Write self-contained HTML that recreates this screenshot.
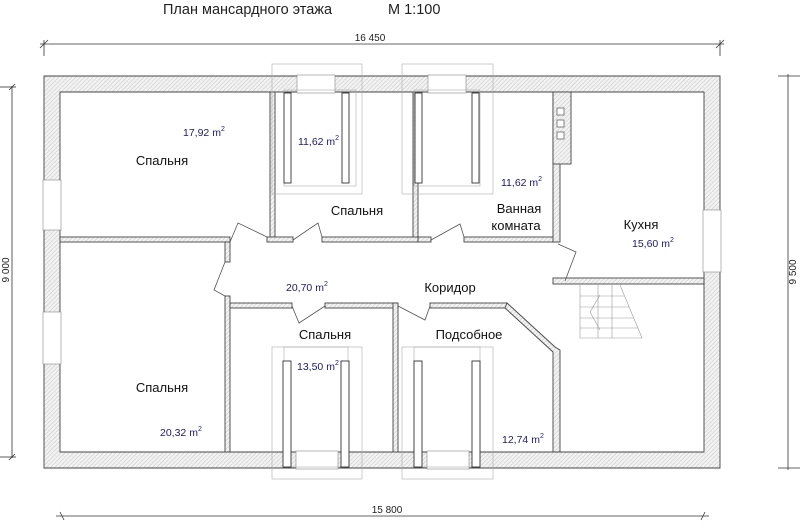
<!DOCTYPE html>
<html><head><meta charset="utf-8"><style>
html,body{margin:0;padding:0;background:#fff;}
svg{display:block;font-family:"Liberation Sans",sans-serif;}
</style></head><body>
<svg width="800" height="529" viewBox="0 0 800 529" xmlns="http://www.w3.org/2000/svg">
<defs>
<pattern id="h" width="3" height="3" patternUnits="userSpaceOnUse" patternTransform="rotate(45)">
<rect width="3" height="3" fill="#f2f2f2"/><line x1="0" y1="0" x2="0" y2="3" stroke="#bbb" stroke-width="0.8"/>
</pattern>
</defs>
<rect width="800" height="529" fill="#fff"/>
<text x="163" y="14" font-size="14.5" fill="#222">План мансардного этажа</text>
<text x="388" y="14" font-size="14.5" fill="#222">М 1:100</text>
<g stroke="#333" stroke-width="0.8" fill="none">
<line x1="40" y1="44" x2="724" y2="44"/><line x1="44" y1="40" x2="44" y2="56"/><line x1="720" y1="40" x2="720" y2="56"/>
<line x1="40" y1="48" x2="48" y2="40"/><line x1="716" y1="48" x2="724" y2="40"/>
<line x1="56" y1="516" x2="709" y2="516"/><line x1="60" y1="512" x2="64" y2="520"/><line x1="705" y1="512" x2="701" y2="520"/>
<line x1="12" y1="86" x2="12" y2="458"/><line x1="0" y1="87" x2="16" y2="87"/><line x1="0" y1="457" x2="16" y2="457"/>
<line x1="9" y1="90" x2="15" y2="84"/><line x1="9" y1="460" x2="15" y2="454"/>
<line x1="788" y1="74" x2="788" y2="470"/><line x1="778" y1="76" x2="800" y2="76"/><line x1="778" y1="468" x2="800" y2="468"/>
</g>
<text x="370" y="41" font-size="10" text-anchor="middle" fill="#222">16 450</text>
<text x="387" y="513" font-size="10" text-anchor="middle" fill="#222">15 800</text>
<text transform="translate(9,270) rotate(-90)" font-size="10" text-anchor="middle" fill="#222">9 000</text>
<text transform="translate(796,272) rotate(-90)" font-size="10" text-anchor="middle" fill="#222">9 500</text>
<path d="M44 76 H720 V468 H44 Z M60 92 V452 H704 V92 Z" fill="url(#h)" fill-rule="evenodd" stroke="#444" stroke-width="0.9"/>
<g fill="#fff" stroke="#888" stroke-width="0.6">
<rect x="43" y="180" width="18" height="50"/>
<rect x="43" y="312" width="18" height="52"/>
<rect x="703" y="210" width="18" height="62"/>
<rect x="297" y="75" width="38" height="18"/>
<rect x="428" y="75" width="38" height="18"/>
<rect x="296" y="451" width="42" height="18"/>
<rect x="427" y="451" width="42" height="18"/>
</g>
<g fill="url(#h)" stroke="#444" stroke-width="0.9">
<rect x="270" y="92" width="5" height="146"/>
<rect x="413" y="92" width="5" height="146"/>
<rect x="60" y="237" width="170" height="5"/>
<rect x="225" y="242" width="5" height="20"/>
<rect x="225" y="296" width="5" height="156"/>
<rect x="267" y="237" width="26" height="5"/>
<rect x="322" y="237" width="96" height="5"/>
<rect x="418" y="237" width="13" height="5"/>
<rect x="464" y="237" width="94" height="5"/>
<rect x="553" y="92" width="7" height="150"/>
<rect x="553" y="92" width="18" height="72"/>
<rect x="553" y="278" width="151" height="6"/>
<rect x="230" y="303" width="62" height="5"/>
<rect x="325" y="303" width="73" height="5"/>
<rect x="393" y="303" width="5" height="149"/>
<rect x="430" y="303" width="77" height="5"/>
<polygon points="507,303 555,347 560,350 560,452 553,452 553,352 505,308"/>
</g>
<g fill="#fff" stroke="#555" stroke-width="0.7">
<rect x="557" y="108" width="7" height="7"/><rect x="557" y="120" width="7" height="7"/><rect x="557" y="132" width="7" height="7"/>
</g>
<g fill="none" stroke="#555" stroke-width="0.8">
<polyline points="230,242 238,223 267,237"/>
<polyline points="293,240 318,223 322,237"/>
<polyline points="431,240 460,224 464,237"/>
<polyline points="225,262 214,290 225,296"/>
<polyline points="292,306 299,323 325,306"/>
<polyline points="398,306 425,320 430,306"/>
<polyline points="558,244 576,252 565,281"/>
</g>
<g fill="none" stroke="#aaa" stroke-width="0.6">
<rect x="272" y="64" width="90" height="130"/><rect x="284" y="90" width="72" height="96"/>
<rect x="402" y="64" width="91" height="130"/><rect x="414" y="90" width="66" height="96"/>
<rect x="272" y="347" width="90" height="132"/><rect x="284" y="347" width="64" height="120"/>
<rect x="402" y="347" width="91" height="132"/><rect x="414" y="347" width="66" height="120"/>
</g>
<g fill="#fff" stroke="#333" stroke-width="0.9">
<rect x="284" y="93" width="7" height="90"/><rect x="342" y="93" width="7" height="90"/>
<rect x="415" y="93" width="7" height="90"/><rect x="472" y="93" width="7" height="90"/>
<rect x="283" y="361" width="8" height="106"/><rect x="341" y="361" width="8" height="106"/>
<rect x="414" y="361" width="8" height="106"/><rect x="472" y="361" width="8" height="106"/>
</g>
<g fill="none" stroke="#999" stroke-width="0.6">
<polyline points="580,285 580,338 642,338 620,285"/>
<line x1="580" y1="296" x2="624" y2="296"/><line x1="580" y1="307" x2="629" y2="307"/><line x1="580" y1="318" x2="633" y2="318"/><line x1="580" y1="328" x2="638" y2="328"/>
<line x1="598" y1="285" x2="598" y2="338"/><line x1="612" y1="285" x2="612" y2="338"/>
<polyline points="600,295 590,312 600,330"/>
</g>
<g font-size="13" fill="#111" text-anchor="middle">
<text x="162" y="165">Спальня</text>
<text x="357" y="215">Спальня</text>
<text x="519" y="213">Ванная</text>
<text x="516" y="230">комната</text>
<text x="641" y="229">Кухня</text>
<text x="450" y="292">Коридор</text>
<text x="325" y="339">Спальня</text>
<text x="469" y="339">Подсобное</text>
<text x="162" y="392">Спальня</text>
</g>
<g font-size="10.5" fill="#1a1a6e">
<text x="183" y="136">17,92 m<tspan dy="-5" font-size="7">2</tspan></text>
<text x="298" y="145">11,62 m<tspan dy="-5" font-size="7">2</tspan></text>
<text x="501" y="186">11,62 m<tspan dy="-5" font-size="7">2</tspan></text>
<text x="632" y="247">15,60 m<tspan dy="-5" font-size="7">2</tspan></text>
<text x="286" y="291">20,70 m<tspan dy="-5" font-size="7">2</tspan></text>
<text x="297" y="370">13,50 m<tspan dy="-5" font-size="7">2</tspan></text>
<text x="160" y="436">20,32 m<tspan dy="-5" font-size="7">2</tspan></text>
<text x="502" y="443">12,74 m<tspan dy="-5" font-size="7">2</tspan></text>
</g>
</svg>
</body></html>
